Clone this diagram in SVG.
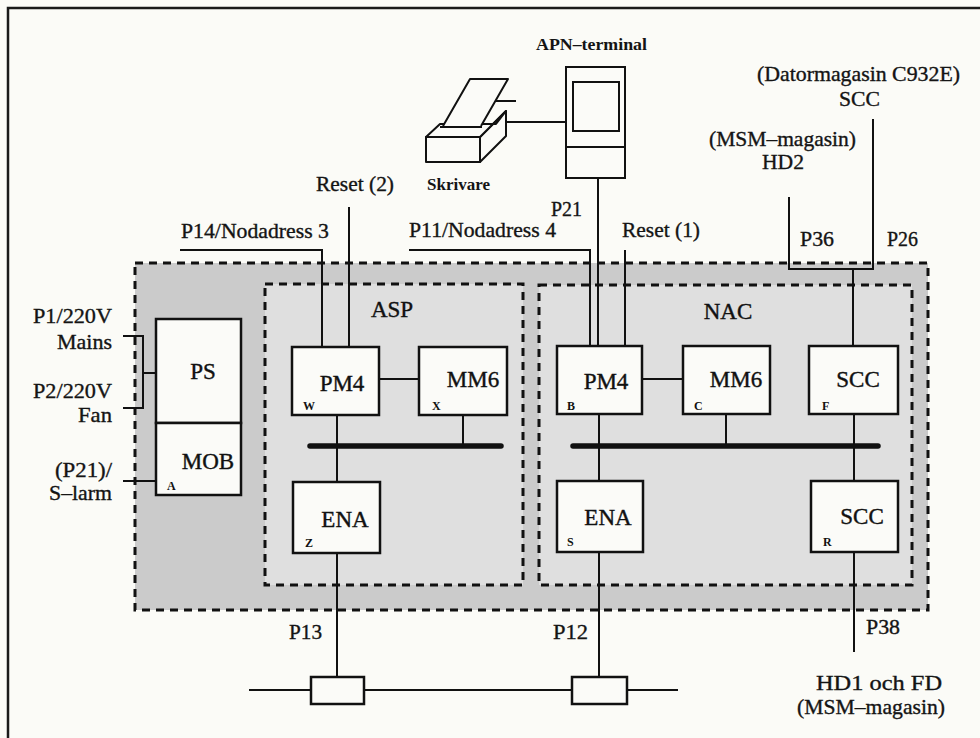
<svg xmlns="http://www.w3.org/2000/svg" width="980" height="738" viewBox="0 0 980 738">
  <style>
    .lbl { font-family: "Liberation Serif", "Times New Roman", serif; font-size: 21px; fill: #141414; stroke: #141414; stroke-width: 0.35; }
    .dev { font-family: "Liberation Serif", "Times New Roman", serif; font-size: 17px; font-weight: bold; fill: #141414; }
    .box { fill: #fbfbf8; stroke: #111; stroke-width: 2.5; }
    .name { font-family: "Liberation Serif", "Times New Roman", serif; font-size: 23px; fill: #111; stroke: #111; stroke-width: 0.4; text-anchor: middle; }
    .tag { font-family: "Liberation Serif", "Times New Roman", serif; font-size: 12px; font-weight: bold; fill: #111; }
    .wire { fill: none; stroke: #111; stroke-width: 2; }
    .bus { fill: none; stroke: #111; stroke-width: 5.5; stroke-linecap: round; }
    .zone { stroke: #111; stroke-width: 3; stroke-dasharray: 8 6; }
  </style>

  <!-- page -->
  <rect x="0" y="0" width="980" height="738" fill="#fbfbf7"/>
  <path d="M8,738 V8 H980" fill="none" stroke="#1a1a1a" stroke-width="2.5"/>

  <!-- cabinet and sub-systems -->
  <g id="cabinet">
    <rect class="zone" x="135" y="263" width="793" height="347" fill="#cbcbcb"/>
  </g>
  <g id="asp">
    <rect class="zone" x="265" y="284" width="258" height="301" fill="#dfdfdf"/>
    <text class="name" x="392" y="317">ASP</text>
  </g>
  <g id="nac">
    <rect class="zone" x="539" y="285" width="373" height="300" fill="#dfdfdf"/>
    <text class="name" x="728" y="319">NAC</text>
  </g>

  <!-- connectors -->
  <g id="connectors">
    <path class="wire" d="M180,250 H322 V347"/>
    <path class="wire" d="M349,207 V347"/>
    <path class="wire" d="M379,379 H419"/>
    <path class="wire" d="M337,415 V482"/>
    <path class="wire" d="M463,415 V446"/>
    <path class="bus" d="M310,446 H501"/>
    <path class="wire" d="M337,553 V677"/>

    <path class="wire" d="M409,250 H590 V346"/>
    <path class="wire" d="M598,178 V346"/>
    <path class="wire" d="M625,250 V346"/>
    <path class="wire" d="M507,122 H566"/>
    <path class="wire" d="M642,379 H683"/>
    <path class="wire" d="M599,414 V481"/>
    <path class="wire" d="M726,414 V446"/>
    <path class="bus" d="M573,446 H878"/>
    <path class="wire" d="M789,197 V269 H873 V119"/>
    <path class="wire" d="M853,269 V346"/>
    <path class="wire" d="M854,414 V481"/>
    <path class="wire" d="M599,552 V677"/>
    <path class="wire" d="M854,552 V652"/>

    <path class="wire" d="M123,336 H143 V408 H123"/>
    <path class="wire" d="M143,373 H156"/>
    <path class="wire" d="M123,481 H156"/>

    <path class="wire" d="M249,690 H678"/>
  </g>

  <!-- power supply / MOB -->
  <g id="ps">
    <rect class="box" x="156" y="319" width="85" height="104"/>
    <text class="name" x="203" y="379">PS</text>
  </g>
  <g id="mob">
    <rect class="box" x="156" y="423" width="85" height="72"/>
    <text class="name" x="208" y="469">MOB</text>
    <text class="tag" x="167" y="490">A</text>
  </g>

  <!-- ASP nodes -->
  <g id="asp-pm4">
    <rect class="box" x="292" y="347" width="87" height="68"/>
    <text class="name" x="342" y="391">PM4</text>
    <text class="tag" x="303" y="410">W</text>
  </g>
  <g id="asp-mm6">
    <rect class="box" x="419" y="347" width="88" height="68"/>
    <text class="name" x="473" y="387">MM6</text>
    <text class="tag" x="432" y="410">X</text>
  </g>
  <g id="asp-ena">
    <rect class="box" x="293" y="482" width="87" height="71"/>
    <text class="name" x="345" y="527">ENA</text>
    <text class="tag" x="305" y="547">Z</text>
  </g>

  <!-- NAC nodes -->
  <g id="nac-pm4">
    <rect class="box" x="557" y="346" width="85" height="68"/>
    <text class="name" x="606" y="389">PM4</text>
    <text class="tag" x="567" y="410">B</text>
  </g>
  <g id="nac-mm6">
    <rect class="box" x="683" y="346" width="87" height="68"/>
    <text class="name" x="736" y="387">MM6</text>
    <text class="tag" x="694" y="410">C</text>
  </g>
  <g id="nac-scc-f">
    <rect class="box" x="809" y="346" width="89" height="68"/>
    <text class="name" x="858" y="387">SCC</text>
    <text class="tag" x="822" y="410">F</text>
  </g>
  <g id="nac-ena">
    <rect class="box" x="557" y="481" width="86" height="71"/>
    <text class="name" x="608" y="525">ENA</text>
    <text class="tag" x="567" y="546">S</text>
  </g>
  <g id="nac-scc-r">
    <rect class="box" x="811" y="481" width="87" height="71"/>
    <text class="name" x="862" y="524">SCC</text>
    <text class="tag" x="823" y="546">R</text>
  </g>

  <!-- network taps -->
  <g id="tap-p13">
    <rect class="box" x="311" y="677" width="53" height="27" stroke-width="2"/>
  </g>
  <g id="tap-p12">
    <rect class="box" x="572" y="677" width="55" height="27" stroke-width="2"/>
  </g>

  <!-- terminal -->
  <g id="apn-terminal">
    <rect x="566" y="67" width="59" height="111" fill="#fbfbf8" stroke="#111" stroke-width="2"/>
    <rect x="573" y="82" width="46" height="49" fill="none" stroke="#111" stroke-width="2"/>
    <path d="M566,147 H625" stroke="#111" stroke-width="2"/>
    <text class="dev" x="536" y="50" textLength="111" lengthAdjust="spacingAndGlyphs">APN–terminal</text>
  </g>

  <!-- printer -->
  <g id="skrivare" fill="#fbfbf8" stroke="#111" stroke-width="2" stroke-linejoin="round">
    <path d="M480,137 L506,111 L506,136 L480,162 Z"/>
    <path d="M426,137 L440,124 L496,124 L506,111 L480,137 Z"/>
    <rect x="426" y="137" width="54" height="25"/>
    <path d="M490,101 H516" fill="none"/>
    <path d="M443,126 L470,79 L508,79 L481,126" />
    <path d="M440,127 H482" fill="none"/>
    <text class="dev" x="427" y="190" stroke="none" fill="#141414" textLength="63" lengthAdjust="spacingAndGlyphs">Skrivare</text>
  </g>

  <!-- port and signal labels -->
  <g id="labels">
    <text class="lbl" x="316" y="191" textLength="78" lengthAdjust="spacingAndGlyphs">Reset (2)</text>
    <text class="lbl" x="181" y="238" textLength="148" lengthAdjust="spacingAndGlyphs">P14/Nodadress 3</text>
    <text class="lbl" x="409" y="237" textLength="147" lengthAdjust="spacingAndGlyphs">P11/Nodadress 4</text>
    <text class="lbl" x="551" y="216" textLength="31" lengthAdjust="spacingAndGlyphs">P21</text>
    <text class="lbl" x="622" y="237" textLength="78" lengthAdjust="spacingAndGlyphs">Reset (1)</text>
    <text class="lbl" x="757" y="81" textLength="203" lengthAdjust="spacingAndGlyphs">(Datormagasin C932E)</text>
    <text class="lbl" x="839" y="106" textLength="41" lengthAdjust="spacingAndGlyphs">SCC</text>
    <text class="lbl" x="709" y="146" textLength="147" lengthAdjust="spacingAndGlyphs">(MSM–magasin)</text>
    <text class="lbl" x="762" y="169" textLength="42" lengthAdjust="spacingAndGlyphs">HD2</text>
    <text class="lbl" x="800" y="246" textLength="34" lengthAdjust="spacingAndGlyphs">P36</text>
    <text class="lbl" x="887" y="246" textLength="31" lengthAdjust="spacingAndGlyphs">P26</text>
    <text class="lbl" x="33" y="323" textLength="79" lengthAdjust="spacingAndGlyphs">P1/220V</text>
    <text class="lbl" x="57" y="349" textLength="55" lengthAdjust="spacingAndGlyphs">Mains</text>
    <text class="lbl" x="33" y="398" textLength="79" lengthAdjust="spacingAndGlyphs">P2/220V</text>
    <text class="lbl" x="78" y="422" textLength="34" lengthAdjust="spacingAndGlyphs">Fan</text>
    <text class="lbl" x="55" y="477" textLength="57" lengthAdjust="spacingAndGlyphs">(P21)/</text>
    <text class="lbl" x="49" y="500" textLength="63" lengthAdjust="spacingAndGlyphs">S–larm</text>
    <text class="lbl" x="289" y="639" textLength="33" lengthAdjust="spacingAndGlyphs">P13</text>
    <text class="lbl" x="553" y="639" textLength="35" lengthAdjust="spacingAndGlyphs">P12</text>
    <text class="lbl" x="866" y="634" textLength="34" lengthAdjust="spacingAndGlyphs">P38</text>
    <text class="lbl" x="816" y="690" textLength="126" lengthAdjust="spacingAndGlyphs">HD1 och FD</text>
    <text class="lbl" x="797" y="714" textLength="148" lengthAdjust="spacingAndGlyphs">(MSM–magasin)</text>
  </g>
</svg>
